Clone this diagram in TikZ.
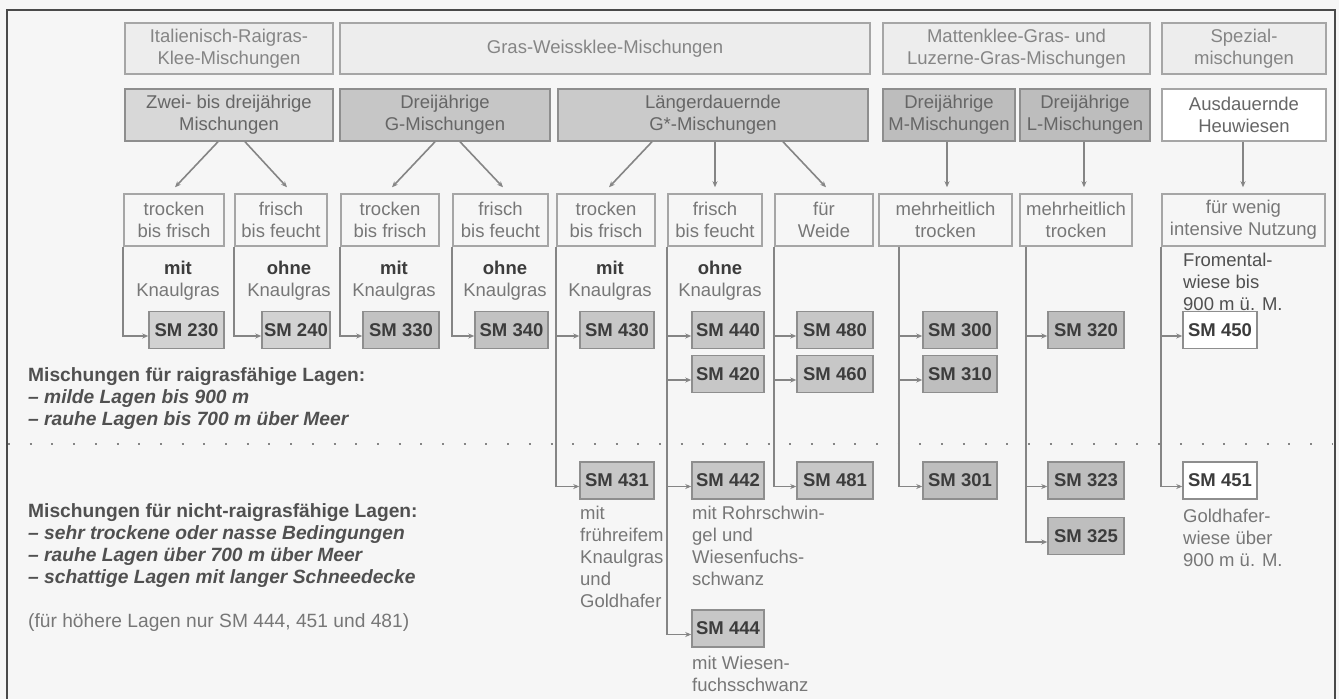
\documentclass[tikz,border=0pt]{standalone}
\usepackage{fontspec}
\setmainfont{Liberation Sans}
\usetikzlibrary{arrows.meta}
\definecolor{bgc}{HTML}{F6F6F6}
\definecolor{bordA}{HTML}{A6A6A6}
\definecolor{bordB}{HTML}{8E8E8E}
\definecolor{fHdr}{HTML}{EDEDED}
\definecolor{fZwei}{HTML}{D8D8D8}
\definecolor{fG}{HTML}{C6C6C6}
\definecolor{fGs}{HTML}{CACACA}
\definecolor{fM}{HTML}{BDBDBD}
\definecolor{fSMa}{HTML}{D2D2D2}
\definecolor{fSMb}{HTML}{C2C2C2}
\definecolor{fSMc}{HTML}{C7C7C7}
\definecolor{fSMd}{HTML}{BEBEBE}
\definecolor{txtHdr}{HTML}{858585}
\definecolor{txtGrp}{HTML}{666666}
\definecolor{txtCond}{HTML}{777777}
\definecolor{txtSM}{HTML}{3C3C3C}
\definecolor{txtDark}{HTML}{505050}
\definecolor{lineC}{HTML}{858585}
\definecolor{frameC}{HTML}{4A4A4A}
\begin{document}
\begin{tikzpicture}[x=1pt,y=-1pt,
  every node/.style={font=\fontsize{18.5}{22}\selectfont, inner sep=0pt, align=center},
  hdr/.style={draw=bordA, fill=fHdr, line width=1.5pt, text=txtHdr, minimum height=51pt},
  grp/.style={draw=bordB, line width=1.5pt, text=txtGrp, minimum height=52pt},
  cond/.style={draw=bordA, fill=bgc, line width=1.5pt, text=txtCond, minimum height=52pt},
  sm/.style={draw=bordB, line width=1.5pt, text=txtSM, font=\fontsize{18.5}{22}\selectfont\bfseries, minimum height=37pt},
  smw/.style={sm, fill=white, draw=bordB},
  lbl/.style={text=txtCond},
  note/.style={text=txtCond, align=left, anchor=west},
  legend/.style={text=txtDark, align=left, anchor=west, font=\fontsize{19.2}{22}\selectfont},
  conn/.style={draw=lineC, line width=1.6pt, -{Stealth[length=6pt,width=5pt]}},
  dotline/.style={draw=lineC, line width=1.6pt, dash pattern=on 2pt off 19.7pt},
  frame/.style={draw=frameC, line width=1.4pt}
]
\useasboundingbox (0,0) rectangle (1339,699);
\fill[bgc] (0,0) rectangle (1339,699);
\draw[frame] (7,699) -- (7,10) -- (1335,10) -- (1335,699);

% row 1
\node[hdr, minimum width=208pt] (h1) at (229,48.5) {Italienisch-Raigras-\\Klee-Mischungen};
\node[hdr, minimum width=530pt] (h2) at (605,48.5) {Gras-Weissklee-Mischungen};
\node[hdr, minimum width=267pt] (h3) at (1016.5,48.5) {Mattenklee-Gras- und\\Luzerne-Gras-Mischungen};
\node[hdr, minimum width=164pt] (h4) at (1244,48.5) {Spezial-\\mischungen};

% row 2
\node[grp, fill=fZwei, minimum width=208pt] (r1) at (229,115) {Zwei- bis dreijährige\\Mischungen};
\node[grp, fill=fG, minimum width=210pt] (r2) at (445,115) {Dreijährige\\G-Mischungen};
\node[grp, fill=fGs, minimum width=310pt] (r3) at (713,115) {Längerdauernde\\G*-Mischungen};
\node[grp, fill=fM, minimum width=132pt] (r4) at (949,115) {Dreijährige\\M-Mischungen};
\node[grp, fill=fM, minimum width=130pt] (r5) at (1085,115) {Dreijährige\\L-Mischungen};
\node[grp, fill=white, draw=bordA, minimum width=164pt] (r6) at (1244,115) {Ausdauernde\\Heuwiesen};

% condition boxes
\node[cond, minimum width=100pt] (c1) at (174,220) {trocken\\bis frisch};
\node[cond, minimum width=92pt] (c2) at (281,220) {frisch\\bis feucht};
\node[cond, minimum width=98pt] (c3) at (390,220) {trocken\\bis frisch};
\node[cond, minimum width=95pt] (c4) at (500.5,220) {frisch\\bis feucht};
\node[cond, minimum width=98pt] (c5) at (606,220) {trocken\\bis frisch};
\node[cond, minimum width=94pt] (c6) at (715,220) {frisch\\bis feucht};
\node[cond, minimum width=98pt] (c7) at (824,220) {für\\Weide};
\node[cond, minimum width=133pt] (c8) at (945.5,220) {mehrheitlich\\trocken};
\node[cond, minimum width=112pt] (c9) at (1076,220) {mehrheitlich\\trocken};
\node[cond, minimum width=163pt] (c10) at (1243.5,220) {für wenig\\intensive Nutzung};

% mit / ohne Knaulgras
\node[lbl] (k1) at (178,281) {\textbf{\color{txtSM}mit}\\Knaulgras};
\node[lbl] (k2) at (289,281) {\textbf{\color{txtSM}ohne}\\Knaulgras};
\node[lbl] (k3) at (394,281) {\textbf{\color{txtSM}mit}\\Knaulgras};
\node[lbl] (k4) at (505,281) {\textbf{\color{txtSM}ohne}\\Knaulgras};
\node[lbl] (k5) at (610,281) {\textbf{\color{txtSM}mit}\\Knaulgras};
\node[lbl] (k6) at (720,281) {\textbf{\color{txtSM}ohne}\\Knaulgras};

% SM boxes row 1
\node[sm, fill=fSMa, minimum width=75pt] (s230) at (186.5,330) {SM 230};
\node[sm, fill=fSMa, minimum width=68pt] (s240) at (296,330) {SM 240};
\node[sm, fill=fSMb, minimum width=76pt] (s330) at (401,330) {SM 330};
\node[sm, fill=fSMb, minimum width=73pt] (s340) at (511.5,330) {SM 340};
\node[sm, fill=fSMc, minimum width=74pt] (s430) at (617,330) {SM 430};
\node[sm, fill=fSMc, minimum width=72pt] (s440) at (728,330) {SM 440};
\node[sm, fill=fSMc, minimum width=76pt] (s480) at (835,330) {SM 480};
\node[sm, fill=fSMd, minimum width=74pt] (s300) at (960,330) {SM 300};
\node[sm, fill=fSMd, minimum width=76pt] (s320) at (1086,330) {SM 320};
\node[smw, minimum width=74pt] (s450) at (1220,330) {SM 450};
% row 2
\node[sm, fill=fSMc, minimum width=72pt] (s420) at (728,374) {SM 420};
\node[sm, fill=fSMc, minimum width=76pt] (s460) at (835,374) {SM 460};
\node[sm, fill=fSMd, minimum width=74pt] (s310) at (960,374) {SM 310};
% row 3
\node[sm, fill=fSMc, minimum width=74pt] (s431) at (617,480.5) {SM 431};
\node[sm, fill=fSMc, minimum width=72pt] (s442) at (728,480.5) {SM 442};
\node[sm, fill=fSMc, minimum width=76pt] (s481) at (835,480.5) {SM 481};
\node[sm, fill=fSMd, minimum width=74pt] (s301) at (960,480.5) {SM 301};
\node[sm, fill=fSMd, minimum width=76pt] (s323) at (1086,480.5) {SM 323};
\node[smw, minimum width=74pt] (s451) at (1220,480.5) {SM 451};
\node[sm, fill=fSMd, minimum width=76pt] (s325) at (1086,536) {SM 325};
\node[sm, fill=fSMc, minimum width=72pt] (s444) at (728,628.5) {SM 444};

% notes
\node[note, text=txtDark] (n450) at (1183,282) {Fromental-\\wiese bis\\900 m ü. M.};
\node[note] (n451) at (1183,538) {Goldhafer-\\wiese über\\900 m ü. M.};
\node[note] (n431) at (580,557) {mit\\frühreifem\\Knaulgras\\und\\Goldhafer};
\node[note] (n442) at (692,546) {mit Rohrschwin-\\gel und\\Wiesenfuchs-\\schwanz};
\node[note] (n444) at (692,674) {mit Wiesen-\\fuchsschwanz};

% legend
\node[legend] (lg1) at (28,399) {\textbf{Mischungen für raigrasfähige Lagen:}\\\textbf{\itshape – milde Lagen bis 900 m}\\\textbf{\itshape – rauhe Lagen bis 700 m über Meer}};
\node[legend] (lg2) at (28,546) {\textbf{Mischungen für nicht-raigrasfähige Lagen:}\\\textbf{\itshape – sehr trockene oder nasse Bedingungen}\\\textbf{\itshape – rauhe Lagen über 700 m über Meer}\\\textbf{\itshape – schattige Lagen mit langer Schneedecke}};
\node[legend, text=txtCond] (lg3) at (28,623) {(für höhere Lagen nur SM 444, 451 und 481)};

% divider
\draw[dotline] (8,444) -- (1333,444);

% arrows row 2 -> condition boxes
\draw[conn] ([xshift=-11pt]r1.south) -- ([xshift=1pt,yshift=6pt]c1.north);
\draw[conn] ([xshift=16pt]r1.south) -- ([xshift=6pt,yshift=6pt]c2.north);
\draw[conn] ([xshift=-10pt]r2.south) -- ([xshift=2pt,yshift=6pt]c3.north);
\draw[conn] ([xshift=15pt]r2.south) -- ([xshift=2.5pt,yshift=6pt]c4.north);
\draw[conn] ([xshift=-61pt]r3.south) -- ([xshift=3pt,yshift=6pt]c5.north);
\draw[conn] ([xshift=2pt]r3.south) -- ([xshift=0pt,yshift=6pt]c6.north);
\draw[conn] ([xshift=70pt]r3.south) -- ([xshift=2pt,yshift=6pt]c7.north);
\draw[conn] ([xshift=-2pt]r4.south) -- ([xshift=1.5pt,yshift=6pt]c8.north);
\draw[conn] ([xshift=-1pt]r5.south) -- ([xshift=8pt,yshift=6pt]c9.north);
\draw[conn] ([xshift=-1pt]r6.south) -- ([xshift=-0.5pt,yshift=6pt]c10.north);

% condition boxes -> SM boxes
\draw[conn] (c1.south west) |- ([yshift=-6pt]s230.west);
\draw[conn] (c2.south west) |- ([yshift=-6pt]s240.west);
\draw[conn] (c3.south west) |- ([yshift=-6pt]s330.west);
\draw[conn] (c4.south west) |- ([yshift=-6pt]s340.west);
\draw[conn] (c5.south west) |- ([yshift=-6pt]s430.west);
\draw[conn] (c5.south west) |- ([yshift=-6pt]s431.west);
\draw[conn] (c6.south west) |- ([yshift=-6pt]s440.west);
\draw[conn] (c6.south west) |- ([yshift=-6pt]s420.west);
\draw[conn] (c6.south west) |- ([yshift=-6pt]s442.west);
\draw[conn] (c6.south west) |- ([yshift=-6pt]s444.west);
\draw[conn] (c7.south west) |- ([yshift=-6pt]s480.west);
\draw[conn] (c7.south west) |- ([yshift=-6pt]s460.west);
\draw[conn] (c7.south west) |- ([yshift=-6pt]s481.west);
\draw[conn] ([xshift=21pt]c8.south west) |- ([yshift=-6pt]s300.west);
\draw[conn] ([xshift=21pt]c8.south west) |- ([yshift=-6pt]s310.west);
\draw[conn] ([xshift=21pt]c8.south west) |- ([yshift=-6pt]s301.west);
\draw[conn] ([xshift=7pt]c9.south west) |- ([yshift=-6pt]s320.west);
\draw[conn] ([xshift=7pt]c9.south west) |- ([yshift=-6pt]s323.west);
\draw[conn] ([xshift=7pt]c9.south west) |- ([yshift=-6pt]s325.west);
\draw[conn] (c10.south west) |- ([yshift=-6pt]s450.west);
\draw[conn] (c10.south west) |- ([yshift=-6pt]s451.west);
\end{tikzpicture}
\end{document}
